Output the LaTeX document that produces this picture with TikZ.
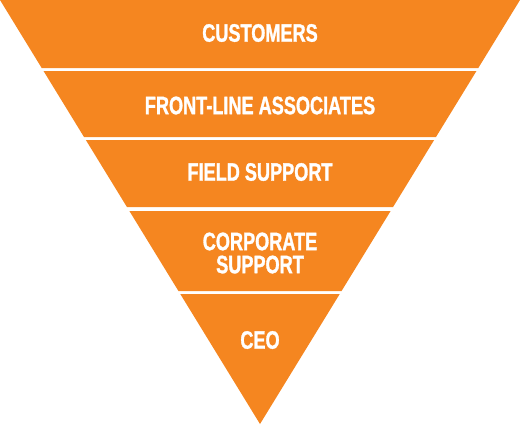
\documentclass[tikz,border=0pt]{standalone}
\usepackage{fontspec}
\newfontfamily\bandfont[FakeStretch=0.72,FakeBold=1.2]{Liberation Sans}
\usetikzlibrary{positioning}
\definecolor{pyrorange}{RGB}{245,134,32}

\begin{document}
\begin{tikzpicture}[x=0.025cm,y=-0.025cm]
\tikzstyle{band}=[fill=pyrorange,draw=none]
\tikzstyle{lbl}=[text=white,align=center,inner sep=0pt,font=\bandfont\bfseries\fontsize{17.9}{16.4}\selectfont]
\useasboundingbox (0,0) rectangle (520,424);
% bands of the inverted triangle, white gaps between them
\foreach \t/\b in {0/68,71/137,140/207,211/291,294/424}
  \fill[band] ({0.6132*\t},\t) -- ({520-0.6132*\t},\t) -- ({520-0.6132*\b},\b) -- ({0.6132*\b},\b) -- cycle;
\node[lbl] (cust) at (260,33) {CUSTOMERS};
\node[lbl] (front) at (260,105.5) {FRONT-LINE ASSOCIATES};
\node[lbl] (field) at (260,172) {FIELD SUPPORT};
\node[lbl] (corp) at (260,253) {CORPORATE\\SUPPORT};
\node[lbl] (ceo) at (260,340) {CEO};
\end{tikzpicture}
\end{document}
